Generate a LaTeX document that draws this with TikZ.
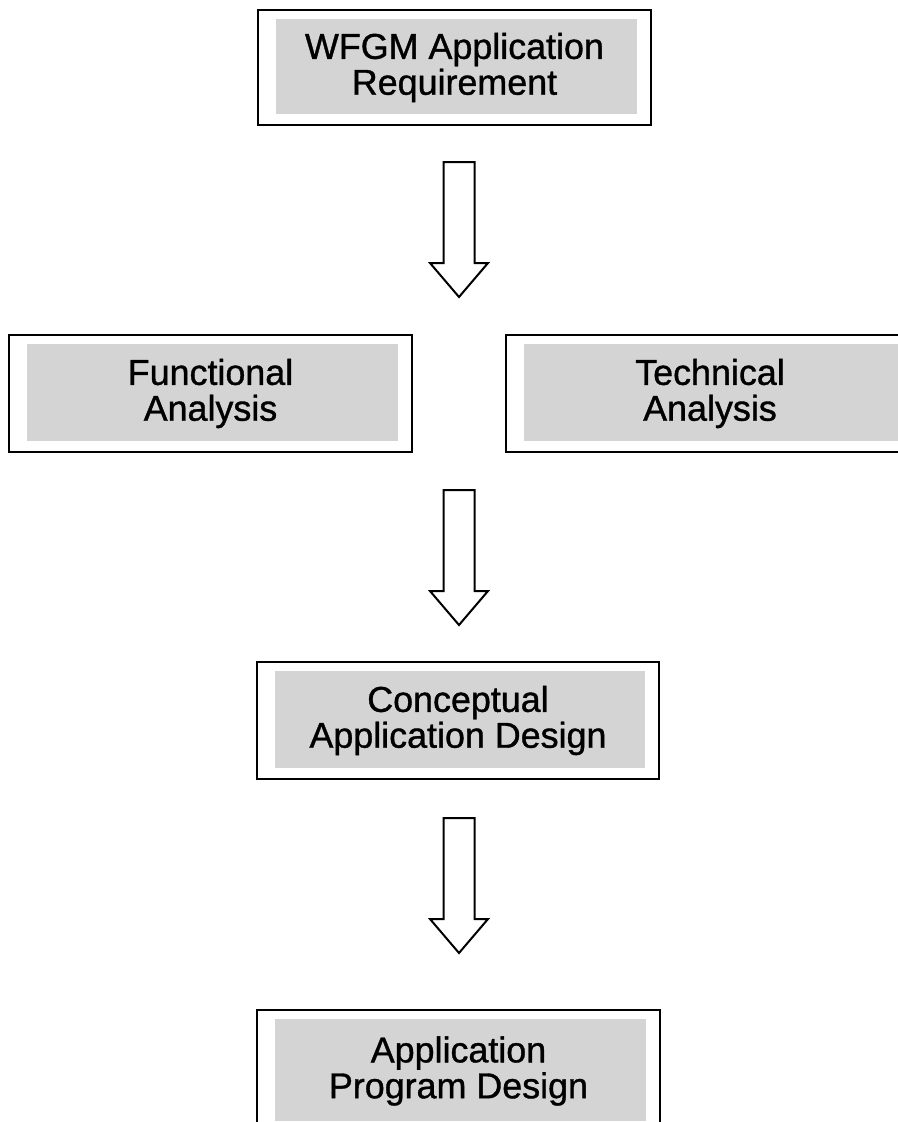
\documentclass[tikz,border=0pt]{standalone}
\usepackage{fontspec}
\setmainfont{Liberation Sans}[FakeBold=1.0]
\begin{document}
\begin{tikzpicture}[x=1bp,y=-1bp,
  stagebox/.style={draw=black, line width=2.6bp, align=center, inner sep=0pt, text=black,
    font=\fontsize{36}{36}\selectfont,
    path picture={\fill[black!17] ([xshift=18bp,yshift=-9bp]path picture bounding box.north west) rectangle ([xshift=-14bp,yshift=11bp]path picture bounding box.south east);}},
  arrowline/.style={draw=black, line width=2bp, fill=white, line join=miter},
  blockarrow/.pic={\path[arrowline] (-15.5,0) -- (-15.5,101) -- (-29,101) -- (0,135) -- (29,101) -- (15.5,101) -- (15.5,0) -- cycle;}
]
\useasboundingbox (0,0) rectangle (898,1122);
\clip (0,0) rectangle (898,1122);
\fill[white] (0,0) rectangle (898,1122);

\node[stagebox, minimum width=393bp, minimum height=115bp] (b1) at (454.5,67.5) {WFGM Application\\Requirement};
\node[stagebox, minimum width=403bp, minimum height=117bp] (b2) at (210.5,393.5) {Functional\\Analysis};
\node[stagebox, minimum width=408bp, minimum height=117bp] (b3) at (710,393.5) {Technical\\Analysis};
\node[stagebox, minimum width=402bp, minimum height=117bp] (b4) at (458,720.5) {Conceptual\\Application Design};
\node[stagebox, minimum width=403bp, minimum height=122bp] (b5) at (458.5,1071) {Application\\Program Design};

\pic at (459,162) {blockarrow};
\pic at (459,490) {blockarrow};
\pic at (459,818) {blockarrow};
\end{tikzpicture}
\end{document}
